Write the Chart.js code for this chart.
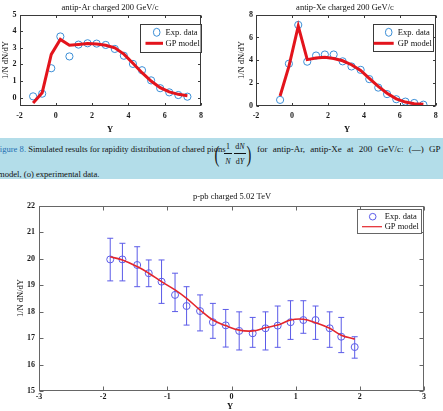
<!DOCTYPE html>
<html><head><meta charset="utf-8">
<script src="https://cdn.jsdelivr.net/npm/chart.js@4.4.1/dist/chart.umd.min.js"></script>
<style>
html,body{margin:0;padding:0;background:#fff;}
#page{position:relative;width:443px;height:411px;overflow:hidden;background:#fff;font-family:"Liberation Serif","Times New Roman",serif;color:#111;}
canvas{position:absolute;}
#band{position:absolute;left:0;top:138px;width:443px;height:41px;background:#b3dde9;}
.cap{position:absolute;white-space:nowrap;font-size:8.6px;line-height:10px;}
.fig{color:#1f6fb2;}
.fr{position:absolute;font-size:8px;line-height:9px;text-align:center;white-space:nowrap;}
.bar{position:absolute;height:0;border-top:0.8px solid #111;}
.par{position:absolute;font-size:24px;line-height:26px;transform:scaleX(0.6);}
</style></head><body>
<div id="page">
<canvas id="c1" style="left:0;top:0" width="222" height="138"></canvas>
<canvas id="c2" style="left:222px;top:0" width="221" height="138"></canvas>
<div id="band"></div>
<div class="cap" style="left:-5px;top:144px"><span class="fig">Figure 8.</span> Simulated results for rapidity distribution of chared pions</div>
<div class="par" style="left:213px;top:141px">(</div>
<div class="fr" style="left:223px;top:142px;width:10px">1</div>
<div class="fr" style="left:233px;top:142px;width:14px">d<i>N</i></div>
<div class="bar" style="left:224px;top:153px;width:8px"></div>
<div class="bar" style="left:234px;top:153px;width:12px"></div>
<div class="fr" style="left:223px;top:157px;width:10px"><i>N</i></div>
<div class="fr" style="left:233px;top:157px;width:14px">d<i>Y</i></div>
<div class="par" style="left:245px;top:141px">)</div>
<div class="cap" style="left:257px;top:144px;font-size:9px;word-spacing:3px">for antip-Ar, antip-Xe at 200 GeV/c: (—) GP</div>
<div class="cap" style="left:-2px;top:169px">model, (o) experimental data.</div>
<canvas id="c3" style="left:0;top:180px" width="443" height="231"></canvas>
</div>
<script>
// ---- data: antip-Ar 200 GeV/c
const arY   = [-1.25,-0.75,-0.25,0.25,0.75,1.25,1.75,2.25,2.75,3.25,3.75,4.25,4.75,5.25,5.75,6.25,6.75,7.25];
const arExp = [0.08,0.24,1.77,3.68,2.48,3.19,3.27,3.25,3.17,2.93,2.52,2.03,1.65,1.04,0.57,0.32,0.16,0.06];
const arGP  = [-0.32,0.3,2.6,3.5,3.15,3.2,3.25,3.22,3.15,3.0,2.62,2.07,1.5,1.0,0.6,0.35,0.2,0.12];
const arXTicks = [-2,0,2,4,6,8];
const arYTicks = [0,1,2,3,4,5];
// ---- data: antip-Xe 200 GeV/c
const xeY   = [-0.66,-0.17,0.35,0.85,1.34,1.83,2.32,2.82,3.31,3.82,4.3,4.8,5.29,5.8,6.31,6.8,7.31];
const xeExp = [0.51,3.69,7.1,3.87,4.41,4.5,4.5,3.9,3.45,3.15,2.34,1.59,1.02,0.57,0.36,0.24,0.09];
const xeGP  = [0.85,3.45,7.0,4.05,4.2,4.25,4.15,3.95,3.6,3.1,2.4,1.7,1.1,0.6,0.32,0.18,0.12];
const xeXTicks = [-2,0,2,4,6,8];
const xeYTicks = [0,2,4,6,8];
// ---- data: p-pb 5.02 TeV
const pbY   = [-1.89,-1.70,-1.47,-1.29,-1.09,-0.88,-0.70,-0.49,-0.29,-0.09,0.12,0.33,0.53,0.72,0.92,1.12,1.31,1.53,1.71,1.92];
const pbExp = [19.97,19.97,19.76,19.45,19.13,18.63,18.21,18.02,17.6,17.48,17.27,17.18,17.37,17.47,17.6,17.68,17.68,17.37,17.05,16.66];
const pbHi  = [20.77,20.58,20.45,19.95,19.95,19.45,18.94,18.63,18.31,18.08,17.99,17.78,17.99,18.21,18.41,18.41,18.21,17.99,17.78,17.05];
const pbLo  = [19.16,19.16,18.94,18.94,18.31,18.0,17.49,17.27,16.99,16.66,16.55,16.65,16.55,16.65,16.95,17.18,16.95,16.65,16.45,16.24];
const pbGP  = [20.07,19.95,19.7,19.45,19.13,18.82,18.5,18.06,17.68,17.47,17.3,17.27,17.39,17.49,17.68,17.71,17.58,17.37,17.11,16.96];
const pbXTicks = [-3,-2,-1,0,1,2,3];
const pbYTicks = [15,16,17,18,19,20,21,22];

const SERIF = '"Liberation Serif","Times New Roman",serif';
const pts = (xs, ys) => xs.map((x, i) => ({x, y: ys[i]}));

const deco = {
  id: 'deco',
  beforeDatasetsDraw(chart, args, o) {
    if (!o.err) return;
    const ctx = chart.ctx, xs = chart.scales.x, ys = chart.scales.y;
    ctx.save();
    ctx.strokeStyle = o.err.color; ctx.lineWidth = 1;
    o.err.x.forEach((xv, i) => {
      const px = xs.getPixelForValue(xv);
      const p1 = ys.getPixelForValue(o.err.hi[i]), p2 = ys.getPixelForValue(o.err.lo[i]);
      ctx.beginPath();
      ctx.moveTo(px, p1); ctx.lineTo(px, p2);
      ctx.moveTo(px - o.err.cap, p1); ctx.lineTo(px + o.err.cap, p1);
      ctx.moveTo(px - o.err.cap, p2); ctx.lineTo(px + o.err.cap, p2);
      ctx.stroke();
    });
    ctx.restore();
  },
  afterDraw(chart, args, o) {
    const ctx = chart.ctx, a = chart.chartArea, xs = chart.scales.x, ys = chart.scales.y;
    ctx.save();
    ctx.strokeStyle = o.axisColor; ctx.lineWidth = 1;
    const L = Math.round(a.left) + 0.5, T = Math.round(a.top) + 0.5, R = Math.round(a.right) - 0.5, B = Math.round(a.bottom) - 0.5;
    ctx.strokeRect(L, T, R - L, B - T);
    ctx.beginPath();
    xs.ticks.forEach(t => {
      const p = Math.round(xs.getPixelForValue(t.value)) + 0.5;
      ctx.moveTo(p, B); ctx.lineTo(p, B - o.tick);
      ctx.moveTo(p, T); ctx.lineTo(p, T + o.tick);
    });
    ys.ticks.forEach(t => {
      const p = Math.round(ys.getPixelForValue(t.value)) + 0.5;
      ctx.moveTo(L, p); ctx.lineTo(L + o.tick, p);
      ctx.moveTo(R, p); ctx.lineTo(R - o.tick, p);
    });
    ctx.stroke();
    ctx.fillStyle = '#111'; ctx.textAlign = 'center'; ctx.textBaseline = 'middle';
    ctx.font = o.titleFont;
    ctx.fillText(o.title[0], o.title[1], o.title[2]);
    ctx.font = o.xTitleFont;
    ctx.fillText(o.xTitle[0], o.xTitle[1], o.xTitle[2]);
    ctx.save();
    ctx.translate(o.yTitle[1], o.yTitle[2]); ctx.rotate(-Math.PI / 2);
    ctx.font = o.yTitleFont;
    ctx.fillText(o.yTitle[0], 0, 0);
    ctx.restore();
    // legend
    const g = o.legend;
    ctx.fillStyle = '#fff'; ctx.fillRect(g.x, g.y, g.w, g.h);
    ctx.strokeStyle = o.axisColor; ctx.lineWidth = 1;
    ctx.strokeRect(Math.round(g.x) + 0.5, Math.round(g.y) + 0.5, Math.round(g.w), Math.round(g.h));
    ctx.strokeStyle = g.ptColor; ctx.lineWidth = 1;
    ctx.beginPath(); ctx.ellipse(g.cx, g.r1, g.rx, g.ry, 0, 0, Math.PI * 2); ctx.stroke();
    ctx.strokeStyle = g.lnColor; ctx.lineWidth = g.lnWidth;
    ctx.beginPath(); ctx.moveTo(g.l0, g.r2); ctx.lineTo(g.l1, g.r2); ctx.stroke();
    ctx.fillStyle = '#111'; ctx.textAlign = 'left'; ctx.font = g.font;
    ctx.fillText(g.t1, g.tx, g.r1); ctx.fillText(g.t2, g.tx, g.r2);
    ctx.restore();
  }
};
Chart.register(deco);

function makeChart(id, cfg) {
  const tickFont = {family: SERIF, size: cfg.tickSize, weight: 'bold'};
  return new Chart(document.getElementById(id), {
    type: 'scatter',
    data: {datasets: [
      {data: pts(cfg.x, cfg.gp), showLine: true, borderColor: cfg.lnColor, borderWidth: cfg.lnWidth,
       pointRadius: 0, tension: cfg.tension, order: 0},
      {data: pts(cfg.x, cfg.exp), showLine: false, pointStyle: 'circle', pointRadius: cfg.r,
       pointBorderColor: cfg.ptColor, pointBackgroundColor: 'rgba(0,0,0,0)', pointBorderWidth: 1, order: 1}
    ]},
    options: {
      responsive: false, animation: false, devicePixelRatio: 1,
      layout: {padding: cfg.pad},
      plugins: {legend: {display: false}, tooltip: {enabled: false}, title: {display: false}, deco: cfg.deco},
      scales: {
        x: {type: 'linear', min: cfg.xmin, max: cfg.xmax,
            afterBuildTicks: s => { s.ticks = cfg.xt.map(v => ({value: v})); },
            afterFit: s => { s.height = cfg.xh; },
            grid: {display: false, drawTicks: false}, border: {display: false},
            ticks: {font: tickFont, color: '#1a1a1a', padding: cfg.xpad, maxRotation: 0, autoSkip: false}},
        y: {type: 'linear', min: cfg.ymin, max: cfg.ymax,
            afterBuildTicks: s => { s.ticks = cfg.yt.map(v => ({value: v})); },
            afterFit: s => { s.width = cfg.yw; },
            grid: {display: false, drawTicks: false}, border: {display: false},
            ticks: {font: tickFont, color: '#1a1a1a', padding: cfg.ypad, autoSkip: false}}
      }
    }
  });
}

const topLegend = (x, y, w, h, cx, l0, l1, tx) => ({x, y, w, h, cx, r1: 32.3, r2: 43.3, rx: 3.3, ry: 4,
  l0, l1, tx, t1: 'Exp. data', t2: 'GP model', ptColor: '#3b8ed6', lnColor: '#e3141c', lnWidth: 3,
  font: '8.5px ' + SERIF});

makeChart('c1', {
  x: arY, exp: arExp, gp: arGP, xt: arXTicks, yt: arYTicks, xmin: -2, xmax: 8, ymin: -0.5, ymax: 5,
  pad: {top: 14.5, left: 0, right: 21, bottom: 0}, xh: 32, yw: 19.5, xpad: 5.2, ypad: 3,
  tickSize: 8, lnColor: '#e3141c', lnWidth: 3, ptColor: '#3b8ed6', r: 3.6, tension: 0,
  deco: {axisColor: '#3a3a3a', tick: 2.5,
    title: ['antip-Ar charged 200 GeV/c', 110, 8], titleFont: '8.5px ' + SERIF,
    xTitle: ['Y', 110, 130], xTitleFont: 'bold 8.5px ' + SERIF,
    yTitle: ['1/N dN/dY', 6, 60], yTitleFont: '8.5px ' + SERIF,
    legend: topLegend(140, 24, 60.5, 28, 156.7, 145.5, 163, 165.5)}
});

makeChart('c2', {
  x: xeY, exp: xeExp, gp: xeGP, xt: xeXTicks, yt: xeYTicks, xmin: -2, xmax: 8, ymin: 0, ymax: 8,
  pad: {top: 14.7, left: 0, right: 5, bottom: 0}, xh: 32.3, yw: 34, xpad: 5.2, ypad: 3,
  tickSize: 8, lnColor: '#e3141c', lnWidth: 3, ptColor: '#3b8ed6', r: 3.6, tension: 0,
  deco: {axisColor: '#3a3a3a', tick: 2.5,
    title: ['antip-Xe charged 200 GeV/c', 123, 8], titleFont: '8.5px ' + SERIF,
    xTitle: ['Y', 125, 129.5], xTitleFont: 'bold 8.5px ' + SERIF,
    yTitle: ['1/N dN/dY', 20, 60], yTitleFont: '8.5px ' + SERIF,
    legend: topLegend(150.7, 24.3, 60, 27.4, 166.7, 151.7, 171.7, 175.7)}
});

makeChart('c3', {
  x: pbY, exp: pbExp, gp: pbGP, xt: pbXTicks, yt: pbYTicks, xmin: -3, xmax: 3, ymin: 15, ymax: 22,
  pad: {top: 25.7, left: 0, right: 19, bottom: 0}, xh: 20, yw: 39, xpad: 1, ypad: 4,
  tickSize: 8, lnColor: '#e4262c', lnWidth: 1.6, ptColor: '#5b5be8', r: 3.5, tension: 0.4,
  deco: {axisColor: '#666', tick: 4,
    title: ['p-pb charged 5.02 TeV', 232, 17], titleFont: '8.5px ' + SERIF,
    xTitle: ['Y', 230, 226.5], xTitleFont: 'bold 8.5px ' + SERIF,
    yTitle: ['1/N dN/dY', 20.7, 118], yTitleFont: '8.5px ' + SERIF,
    err: {x: pbY, hi: pbHi, lo: pbLo, color: '#5b5be8', cap: 3},
    legend: {x: 357, y: 29.3, w: 64.3, h: 24, cx: 372.7, r1: 36.7, r2: 46.7, rx: 3.3, ry: 3.3,
      l0: 362, l1: 382, tx: 384.7, t1: 'Exp. data', t2: 'GP model', ptColor: '#5b5be8', lnColor: '#e4262c',
      lnWidth: 1.2, font: '8.5px ' + SERIF}}
});
</script>
</body></html>
